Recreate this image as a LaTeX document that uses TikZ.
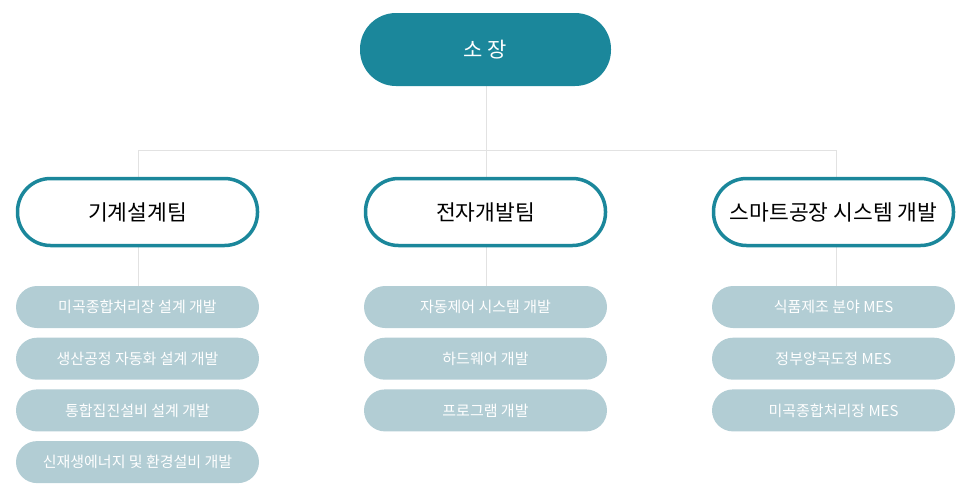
\documentclass[tikz,border=0pt]{standalone}
\usepackage{fontspec}
\setmainfont{Noto Sans CJK KR}
\usepackage{tikz}
\usetikzlibrary{positioning}
\definecolor{teal}{HTML}{1B879B}
\definecolor{item}{HTML}{B2CDD4}
\definecolor{wire}{HTML}{E2E2E2}

\begin{document}
\begin{tikzpicture}[
  x=1pt, y=-1pt,
  head/.style={
    fill=teal, text=white,
    minimum width=251pt, minimum height=73pt,
    rounded corners=36pt, font=\fontsize{21}{24}\selectfont
  },
  team/.style={
    draw=teal, line width=3.5pt, fill=white,
    minimum width=240pt, minimum height=67pt,
    rounded corners=33pt, font=\fontsize{21.5}{25}\selectfont
  },
  job/.style={
    fill=item, text=white,
    minimum width=243pt, minimum height=42pt,
    rounded corners=21pt, font=\fontsize{15}{18}\selectfont
  },
  wire/.style={draw=wire, line width=1pt}
]
  \useasboundingbox (0,0) rectangle (966,499);
  \coordinate (bar) at (486,150);
  \coordinate (top) at (486,86);
  \foreach \x/\n in {138/u1,486/u2,836/u3} {
    \coordinate (\n) at (\x,150);
  }
  % wires first, so the boxes cover them
  \draw[wire] (top) -- (bar);
  \draw[wire] (u1) -- (u3);
  \draw[wire] (u1) -- ++(0,150);
  \draw[wire] (u2) -- ++(0,150);
  \draw[wire] (u3) -- ++(0,150);
  \node[head] (boss) at (485.5,49.5){소 장};
  \foreach \x/\n/\t in {137.5/t1/기계설계팀,485.5/t2/전자개발팀,833.5/t3/스마트공장 시스템 개발} {
    \node[team] (\n) at (\x,212){\t};
  }
  % items under each team
  \foreach \i/\t in {1/미곡종합처리장 설계 개발,2/생산공정 자동화 설계 개발,3/통합집진설비 설계 개발,4/신재생에너지 및 환경설비 개발} {
    \node[job] (a\i) at (137.5,{307+(\i-1)*51.7}){\t};
  }
  \foreach \i/\t in {1/자동제어 시스템 개발,2/하드웨어 개발,3/프로그램 개발} {
    \node[job] (b\i) at (485.5,{307+(\i-1)*51.7}){\t};
  }
  \foreach \i/\t in {1/식품제조 분야 MES,2/정부양곡도정 MES,3/미곡종합처리장 MES} {
    \node[job] (c\i) at (833.5,{307+(\i-1)*51.7}){\t};
  }
\end{tikzpicture}
\end{document}
